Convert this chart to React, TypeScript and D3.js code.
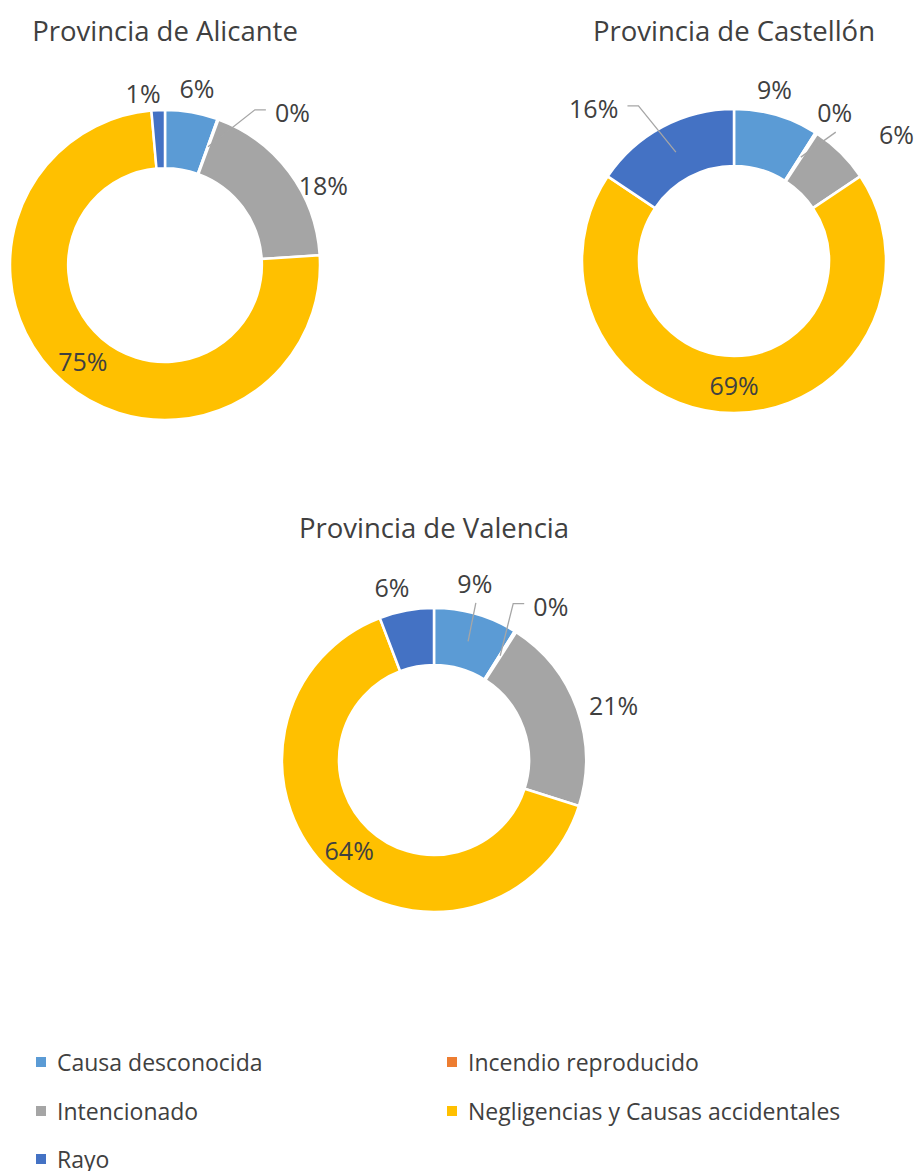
import React from "react";
import * as d3 from "d3";

// ---- data ----
const categories = [
  "Causa desconocida",
  "Incendio reproducido",
  "Intencionado",
  "Negligencias y Causas accidentales",
  "Rayo",
];
const provinces = ["Provincia de Alicante", "Provincia de Castellón", "Provincia de Valencia"];
const alicanteValues = [5.5, 0.1, 18.4, 74.6, 1.4];
const castellonValues = [9.0, 0.2, 6.4, 68.8, 15.6];
const valenciaValues = [8.9, 0.2, 20.8, 64.3, 5.8];

// ---- styles / layout ----
const colors = ["#5B9BD5", "#ED7D31", "#A5A5A5", "#FFC000", "#4472C4"];
const FONT = "'Open Sans', 'Noto Sans', sans-serif";
const TEXT = "#404040";
const LABEL_SIZE = 25;

type Layout = {
  cx: number;
  cy: number;
  R: number;
  titleY: number;
  nudges: [number, number][];
  leaders: boolean[];
};
const layouts: Layout[] = [
  {
    cx: 165, cy: 265, R: 155, titleY: 30,
    nudges: [[1, 0], [66, 16], [14, 28], [0, 0], [-14, 8]],
    leaders: [false, true, false, false, false],
  },
  {
    cx: 734, cy: 261, R: 152, titleY: 30,
    nudges: [[-9, -2], [5, 0], [38, -1], [0, 0], [-57, 3]],
    leaders: [false, true, false, false, true],
  },
  {
    cx: 434, cy: 760, R: 152, titleY: 527,
    nudges: [[-8, -7], [22, -5], [13, 5], [0, 0], [-10, 1]],
    leaders: [true, true, false, false, false],
  },
];
const allValues = [alicanteValues, castellonValues, valenciaValues];

function Donut({ values, title, layout }: { values: number[]; title: string; layout: Layout }) {
  const { cx, cy, R, titleY, nudges, leaders } = layout;
  const r = R * 0.625;
  const total = d3.sum(values);
  const pie = d3.pie<number>().sort(null).value((d) => d)(values);
  const arc = d3.arc<d3.PieArcDatum<number>>().innerRadius(r).outerRadius(R);
  const midR = (r + R) / 2;
  const labelR = R + 25;
  return (
    <g>
      <text x={cx} y={titleY} textAnchor="middle" dominantBaseline="central"
        fontFamily={FONT} fontSize={27.5} fill={TEXT}>{title}</text>
      <g transform={`translate(${cx},${cy})`}>
        {pie.map((p, i) => (
          <path key={i} d={arc(p) || ""} fill={colors[i]} stroke="#fff" strokeWidth={2.5} strokeLinejoin="round" />
        ))}
        {pie.map((p, i) => {
          const pct = Math.round((p.value / total) * 100) + "%";
          const mid = (p.startAngle + p.endAngle) / 2;
          const inside = p.value / total > 0.5;
          const cxC = Math.sin(mid) * midR;
          const cyC = -Math.cos(mid) * midR;
          let lx: number, ly: number;
          if (inside) {
            lx = cxC; ly = cyC;
          } else {
            lx = Math.sin(mid) * labelR + nudges[i][0];
            ly = -Math.cos(mid) * labelR + nudges[i][1];
          }
          let leader = null;
          if (leaders[i]) {
            const halfW = (((pct.length - 1) * 0.572 + 0.838) * LABEL_SIZE) / 2;
            const dxL = cxC - lx;
            let pts: [number, number][];
            if (Math.abs(dxL) > halfW + 25) {
              const sx = lx + Math.sign(dxL) * (halfW + 9);
              const sy = ly - 2;
              pts = [[sx, sy], [sx + Math.sign(dxL) * 11, sy], [cxC, cyC]];
            } else {
              pts = [[lx + 1, ly + 20], [cxC, cyC]];
            }
            leader = (
              <path d={d3.line()(pts) || ""} fill="none" stroke="#A6A6A6" strokeWidth={1.3} />
            );
          }
          return (
            <g key={"l" + i}>
              {leader}
              <text x={lx} y={ly} textAnchor="middle" dominantBaseline="central"
                fontFamily={FONT} fontSize={LABEL_SIZE} fill={TEXT}>{pct}</text>
            </g>
          );
        })}
      </g>
    </g>
  );
}

const legendCols = [36, 447];
const legendRows = [1062, 1111, 1159];

export default function App() {
  return (
    <svg width={919} height={1171} style={{ position: "absolute", left: 0, top: 0, background: "#fff" }}>
      <rect width={919} height={1171} fill="#fff" />
      {provinces.map((t, i) => (
        <Donut key={t} title={t} values={allValues[i]} layout={layouts[i]} />
      ))}
      {categories.map((c, i) => {
        const x = legendCols[i % 2];
        const y = legendRows[Math.floor(i / 2)];
        return (
          <g key={c}>
            <rect x={x} y={y - 5} width={10} height={10} fill={colors[i]} />
            <text x={x + 21} y={y} dominantBaseline="central" fontFamily={FONT}
              fontSize={23} fill={TEXT}>{c}</text>
          </g>
        );
      })}
    </svg>
  );
}
